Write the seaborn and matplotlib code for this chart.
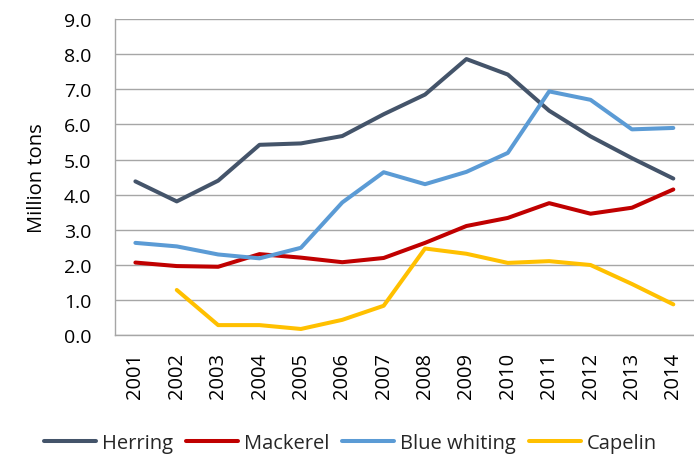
import numpy as np
import pandas as pd
import matplotlib
matplotlib.use("Agg")
import matplotlib.pyplot as plt
import seaborn as sns

years = ["2001", "2002", "2003", "2004", "2005", "2006", "2007",
         "2008", "2009", "2010", "2011", "2012", "2013", "2014"]
herring = [4.38, 3.81, 4.40, 5.42, 5.46, 5.67, 6.29, 6.85, 7.86, 7.42, 6.39, 5.66, 5.04, 4.46]
mackerel = [2.07, 1.97, 1.95, 2.31, 2.21, 2.08, 2.20, 2.63, 3.11, 3.34, 3.76, 3.46, 3.63, 4.15]
blue_whiting = [2.63, 2.53, 2.30, 2.19, 2.49, 3.78, 4.64, 4.30, 4.65, 5.19, 6.94, 6.70, 5.86, 5.90]
capelin = [np.nan, 1.29, 0.29, 0.29, 0.18, 0.44, 0.84, 2.47, 2.32, 2.06, 2.11, 2.00, 1.46, 0.88]
y_ticks = [0.0, 1.0, 2.0, 3.0, 4.0, 5.0, 6.0, 7.0, 8.0, 9.0]

series = {"Herring": herring, "Mackerel": mackerel,
          "Blue whiting": blue_whiting, "Capelin": capelin}
colors = {"Herring": "#44546A", "Mackerel": "#C00000",
          "Blue whiting": "#5B9BD5", "Capelin": "#FFC000"}

rows = []
for name, vals in series.items():
    for i, (y, v) in enumerate(zip(years, vals)):
        rows.append({"idx": i, "year": y, "species": name, "value": v})
df = pd.DataFrame(rows)

sns.set_theme(style="white")
plt.rcParams["font.family"] = ["Open Sans", "DejaVu Sans"]

fig = plt.figure(figsize=(6.94, 4.56), dpi=100)
W, H = 694, 456
left, right, top, bottom = 114.7, 694, 20, 336.3
ax = fig.add_axes([left / W, 1 - bottom / H, (right - left) / W, (bottom - top) / H])

for name in series:
    sub = df[df["species"] == name]
    sns.lineplot(data=sub, x="idx", y="value", ax=ax, color=colors[name],
                 linewidth=2.9, label=name, legend=False, solid_capstyle="round")

grey = "#A6A6A6"
ax.set_xlim(-0.5, -0.5 + (right - left) / 41.85)
ax.set_ylim(0, 9)
ax.set_yticks(y_ticks)
ax.set_yticklabels([f"{v:.1f}" for v in y_ticks], fontsize=14)
ax.set_xticks(range(len(years)))
ax.set_xticklabels(years, rotation=90, fontsize=14.5)
ax.set_xticks(np.arange(-0.5, len(years), 1.0), minor=True)
ax.tick_params(axis="x", which="major", length=0, pad=12, labelcolor="black")
ax.tick_params(axis="x", which="minor", length=6, width=1, color=grey, direction="out")
ax.tick_params(axis="y", length=6, width=1, color=grey, direction="out", pad=11,
               labelcolor="black")
ax.grid(axis="y", color=grey, linewidth=1)
ax.grid(axis="x", visible=False)
ax.set_axisbelow(True)
for s in ["top", "right"]:
    ax.spines[s].set_visible(False)
for s in ["left", "bottom"]:
    ax.spines[s].set_color(grey)
    ax.spines[s].set_linewidth(1)
ax.set_xlabel("")
ax.set_ylabel("Million tons", fontsize=14.5, labelpad=12, color="black")

handles, labels = ax.get_legend_handles_labels()
fig.legend(handles, labels, loc="lower center", bbox_to_anchor=(0.505, -0.036),
           ncol=4, frameon=False, fontsize=14.5, handlelength=2.6,
           columnspacing=0.62, handletextpad=0.3)

fig.savefig("out.png", dpi=100)
